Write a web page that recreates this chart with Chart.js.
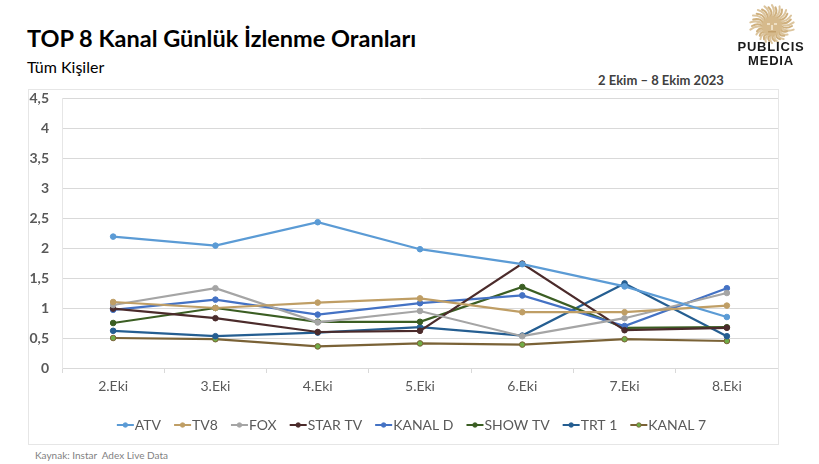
<!DOCTYPE html>
<html>
<head>
<meta charset="utf-8">
<script src="https://cdn.jsdelivr.net/npm/chart.js@4/dist/chart.umd.min.js"></script>
<style>
  html, body { margin:0; padding:0; background:#fff; }
  body { width:819px; height:464px; position:relative; overflow:hidden; font-family: Lato, "Liberation Sans", sans-serif; }
  .abs { position:absolute; white-space:nowrap; }
  #title { left:27px; top:24px; font-size:23.5px; font-weight:bold; color:#000; }
  #sub { left:27px; top:57px; font-size:16px; color:#000; }
  #date { left:598px; top:72px; font-size:13px; font-weight:bold; color:#404040; }
  #src { left:35px; top:449px; font-size:10px; color:#7f7f7f; }
  #box { left:28px; top:89px; width:751px; height:356px; box-sizing:border-box; border:1px solid #e6e6e6; }
  #wrap { left:28px; top:89px; width:750px; height:355px; }
  #wrap canvas { display:block; }
  #logo { left:741px; top:4px; }
  #pub { left:721px; top:40px; width:100px; text-align:center; font-family:"Liberation Sans", Arial, sans-serif; font-weight:bold; font-size:13px; letter-spacing:0.8px; line-height:14px; color:#1a1a1a; }
</style>
</head>
<body>
<div class="abs" id="title">TOP 8 Kanal Günlük İzlenme Oranları</div>
<div class="abs" id="sub">Tüm Kişiler</div>
<div class="abs" id="date">2 Ekim – 8 Ekim 2023</div>
<canvas class="abs" id="logo" width="62" height="42"></canvas>
<div class="abs" id="pub">PUBLICIS<br>MEDIA</div>
<div class="abs" id="box"></div>
<div class="abs" id="wrap"><canvas id="c" width="750" height="355"></canvas></div>
<div class="abs" id="src">Kaynak: Instar&nbsp; Adex Live Data</div>
<script>
const categories = ["2.Eki","3.Eki","4.Eki","5.Eki","6.Eki","7.Eki","8.Eki"];
const yTicks = [0,0.5,1,1.5,2,2.5,3,3.5,4,4.5];
const seriesNames = ["ATV","TV8","FOX","STAR TV","KANAL D","SHOW TV","TRT 1","KANAL 7"];
const atv    = [2.19, 2.04, 2.43, 1.98, 1.73, 1.36, 0.85];
const tv8    = [1.10, 1.00, 1.09, 1.16, 0.93, 0.93, 1.04];
const fox    = [1.05, 1.33, 0.76, 0.95, 0.53, 0.83, 1.25];
const starTv = [0.99, 0.83, 0.60, 0.62, 1.74, 0.63, 0.67];
const kanalD = [0.97, 1.14, 0.89, 1.08, 1.21, 0.70, 1.33];
const showTv = [0.75, 1.00, 0.77, 0.77, 1.35, 0.67, 0.68];
const trt1   = [0.62, 0.53, 0.59, 0.68, 0.54, 1.41, 0.53];
const kanal7 = [0.50, 0.48, 0.36, 0.41, 0.39, 0.48, 0.45];

const values = [atv, tv8, fox, starTv, kanalD, showTv, trt1, kanal7];
const lineColors = ["#5B9BD5","#BF9E65","#A5A5A5","#4B2B2B","#4472C4","#3B5E23","#255E91","#7A6236"];
const pointFill  = ["#5B9BD5","#BF9E65","#A5A5A5","#4B2B2B","#4472C4","#3B5E23","#255E91","#70AD47"];

// logo sun (decorative)
(function(){
  const c = document.getElementById('logo'); const x = c.getContext('2d');
  const cx = 31, cy = 22;
  x.lineCap='round';
  for (let i=0;i<36;i++){
    const a = (i/36)*Math.PI*2;
    const r1 = 9, r2 = (Math.sin(a) > 0.3 ? 16 : 20) + (i%2)*2;
    x.strokeStyle = i%2 ? '#DCC59E' : '#CFB07E';
    x.lineWidth = 2;
    x.beginPath();
    x.moveTo(cx+Math.cos(a)*r1, cy+Math.sin(a)*r1);
    x.quadraticCurveTo(cx+Math.cos(a+0.25)*(r1+r2)/2, cy+Math.sin(a+0.25)*(r1+r2)/2, cx+Math.cos(a)*r2, cy+Math.sin(a)*r2*0.95);
    x.stroke();
  }
  x.fillStyle = '#D6BA8C';
  x.beginPath(); x.arc(cx, cy, 10, 0, Math.PI*2); x.fill();
  x.fillStyle = '#EEDFC4';
  x.fillRect(cx-5, cy-3, 3, 2); x.fillRect(cx+2, cy-3, 3, 2);
  x.fillRect(cx-1, cy-1, 2, 5);
  x.fillStyle = '#C29F6A';
  x.fillRect(cx-4, cy+5, 8, 1.5);
})();

const datasets = seriesNames.map((n,i)=>({
  label: n,
  data: values[i],
  borderColor: lineColors[i],
  backgroundColor: pointFill[i],
  pointBackgroundColor: pointFill[i],
  pointBorderColor: lineColors[i],
  pointBorderWidth: 1,
  pointRadius: 2.8,
  pointHoverRadius: 3,
  borderWidth: 2.2,
  tension: 0,
  pointStyle: 'circle'
}));

const FONT = 'Lato, "Liberation Sans", sans-serif';

// Excel-like legend: short line with dot, label right after it
const excelLegend = {
  id: 'excelLegend',
  afterDraw(ch) {
    const ctx = ch.ctx;
    ctx.save();
    ctx.font = '14px ' + FONT;
    const mw = 17, gap = 1, itemGap = 13;
    const items = ch.data.datasets.map(d => ({d, w: mw + gap + ctx.measureText(d.label).width}));
    const total = items.reduce((s,it)=>s+it.w,0) + itemGap*(items.length-1);
    let x = 383.5 - total/2;
    const y = 336;
    items.forEach(({d,w}) => {
      ctx.strokeStyle = d.borderColor; ctx.lineWidth = 2;
      ctx.beginPath(); ctx.moveTo(x, y); ctx.lineTo(x+mw, y); ctx.stroke();
      ctx.fillStyle = d.pointBackgroundColor; ctx.lineWidth = 0.8;
      ctx.beginPath(); ctx.arc(x+mw/2, y, 2.3, 0, Math.PI*2); ctx.fill(); ctx.stroke();
      ctx.fillStyle = '#595959'; ctx.textBaseline = 'middle'; ctx.textAlign = 'left';
      ctx.fillText(d.label, x+mw+gap, y+0.5);
      x += w + itemGap;
    });
    ctx.restore();
  }
};

const chart = new Chart(document.getElementById('c'), {
  type: 'line',
  data: { labels: categories, datasets },
  plugins: [excelLegend],
  options: {
    responsive: false,
    devicePixelRatio: 1,
    animation: false,
    layout: { autoPadding: false, padding: { top: 9, left: 0, right: 0, bottom: 36 } },
    plugins: {
      tooltip: { enabled: false },
      legend: { display: false }
    },
    scales: {
      x: {
        offset: true,
        grid: { display: true, drawOnChartArea: false, drawTicks: true, tickLength: 5, color: '#d9d9d9', offset: true },
        border: { display: true, color: '#d9d9d9' },
        ticks: { color: '#595959', padding: 5, font: { family: FONT, size: 14 } },
        afterFit: (s) => { s.height = 40; s.paddingLeft = 0; s.paddingRight = 0; }
      },
      y: {
        min: 0, max: 4.5,
        afterBuildTicks: (s) => { s.ticks = yTicks.map(v=>({value:v})); },
        grid: { color: '#d9d9d9', drawTicks: false, lineWidth: 1 },
        border: { display: true, color: '#e6e6e6' },
        ticks: {
          color: '#595959', padding: 13,
          font: { family: FONT, size: 14, weight: 'bold' },
          callback: (v) => String(v).replace('.', ',')
        },
        afterFit: (s) => { s.width = 34; s.paddingTop = 0; s.paddingBottom = 0; }
      }
    }
  }
});
</script>
</body>
</html>
